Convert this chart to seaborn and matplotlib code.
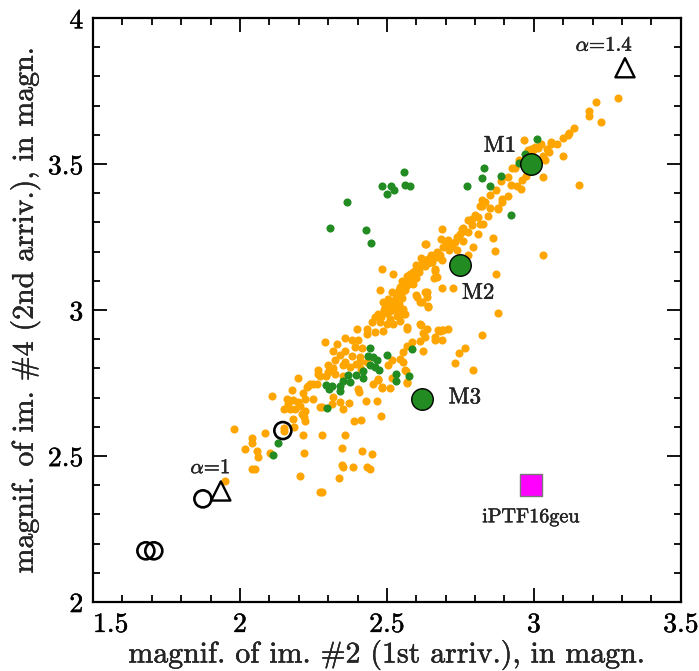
import numpy as np
import pandas as pd
import matplotlib
matplotlib.use("Agg")
import matplotlib.pyplot as plt
import matplotlib.patheffects as pe
import seaborn as sns

# ---------------- data ----------------
orange_x = [3.287,3.213,3.188,3.187,3.229,3.137,3.12,3.115,3.098,3.08,3.057,3.05,3.098,3.032,3.024,2.965,3.037,3.154,3.031,2.981,2.998,2.95,2.924,2.935,2.913,2.973,2.961,2.887,2.921,2.943,2.955,2.87,2.912,2.89,2.85,2.822,2.833,2.822,2.852,2.877,2.845,2.799,2.81,2.777,2.828,2.788,2.76,2.686,
            2.99,3.005,3.015,3.045,3.06,
            2.632,2.482,2.616,
            2.818,2.879,2.89,2.791,2.816,2.754,2.777,2.81,2.861,2.684,2.709,2.76,2.731,2.629,2.793,2.712,2.739,2.867,2.777,2.68,2.657,2.618,2.686,2.641,3.03,2.663,2.871,2.612,2.589,2.567,2.55,2.686,2.725,2.66,2.635,2.601,2.618,2.641,2.879,2.555,2.555,2.567,2.615,2.635,2.686,2.709,2.663,2.825,
            2.58,2.6,2.62,2.63,2.6,2.575,2.59,2.56,2.54,2.6,2.64,2.65,2.67,2.69,2.7,2.72,2.74,2.75,2.76,2.655,2.67,2.61,
            2.522,2.578,2.6,2.623,2.646,2.663,2.669,2.567,2.544,2.476,2.516,2.533,2.6,2.629,2.635,2.504,2.612,2.641,2.487,2.493,2.51,2.47,2.533,2.561,2.459,2.544,2.448,2.476,2.499,2.522,2.612,2.567,2.623,2.397,2.431,2.487,2.459,2.431,2.629,2.663,2.675,2.584,2.612,2.567,2.623,2.357,2.38,2.402,2.289,2.329,2.391,2.414,2.357,2.317,2.34,2.38,2.408,2.555,2.544,2.516,2.323,2.357,2.408,2.555,2.3,2.317,2.374,2.561,2.266,2.294,2.272,2.198,2.47,2.567,2.482,2.249,2.232,2.402,
            2.52,2.53,2.55,2.56,2.57,2.58,2.59,2.5,2.49,2.5,2.52,2.54,2.48,2.51,2.53,2.55,
            2.35,2.299,2.322,2.35,2.395,2.412,2.434,2.504,2.565,2.57,2.519,2.47,2.453,2.482,2.512,2.405,2.317,2.312,2.34,2.372,2.428,2.468,2.349,2.278,2.48,2.389,2.412,2.278,2.357,2.348,2.414,2.448,2.346,2.352,2.386,2.431,2.442,2.338,2.278,
            2.261,2.238,2.227,2.176,2.108,2.215,2.221,2.161,2.181,2.249,2.198,2.164,2.204,2.15,2.17,2.187,2.221,2.272,2.21,2.219,2.179,2.221,2.15,2.185,1.98,2.085,2.215,2.042,2.042,2.017,2.057,2.062,2.102,2.219,2.04,2.051,2.204,1.949,2.272,2.15,2.266,
            2.686,2.765,2.745,2.733,2.794,2.692,2.68]
orange_y = [3.728,3.712,3.681,3.665,3.644,3.625,3.607,3.60,3.59,3.568,3.568,3.541,3.529,3.529,3.57,3.581,3.515,3.427,3.456,3.547,3.547,3.515,3.488,3.488,3.456,3.459,3.447,3.442,3.427,3.424,3.416,3.412,3.39,3.381,3.393,3.376,3.37,3.355,3.35,3.347,3.321,3.327,3.318,3.307,3.296,3.29,3.282,3.279,
            3.55,3.56,3.555,3.55,3.575,
            3.227,3.141,3.178,
            3.358,3.35,3.37,3.313,3.293,3.279,3.267,3.261,3.248,3.244,3.241,3.238,3.233,3.227,3.215,3.206,3.204,3.202,3.187,3.187,3.179,3.176,3.17,3.161,3.19,3.141,3.122,3.147,3.13,3.118,3.101,3.075,3.075,3.11,3.061,3.044,3.027,3.01,2.991,3.005,2.987,2.941,2.95,2.936,2.93,2.936,2.907,2.913,
            3.12,3.14,3.16,3.15,3.11,3.10,3.09,3.08,3.07,3.155,3.175,3.19,3.2,3.215,3.225,3.22,3.25,3.26,3.27,3.165,3.18,3.13,
            3.122,3.124,3.135,3.153,3.164,3.135,3.113,3.101,3.078,3.067,3.061,3.056,3.05,3.061,3.044,3.038,3.027,3.012,3.027,3.01,2.998,2.987,2.981,2.987,2.975,2.964,2.958,2.958,2.953,2.953,2.953,2.936,2.92,2.936,2.936,2.927,2.924,2.918,2.907,2.898,2.93,2.89,2.895,2.878,2.859,2.905,2.898,2.898,2.892,2.884,2.872,2.87,2.859,2.861,2.847,2.844,2.838,2.855,2.833,2.827,2.827,2.821,2.821,2.821,2.81,2.802,2.804,2.793,2.793,2.775,2.775,2.767,2.764,2.752,2.735,2.747,2.741,2.73,
            3.03,3.04,3.06,3.07,3.085,3.095,3.105,3.02,3.0,2.99,3.01,3.02,2.975,2.97,3.0,3.04,
            2.81,2.787,2.781,2.775,2.815,2.798,2.821,2.81,2.79,2.749,2.767,2.761,2.747,2.733,2.733,2.718,2.701,2.678,2.684,2.682,2.687,2.689,2.661,2.667,2.638,2.619,2.623,2.573,2.573,2.527,2.518,2.507,2.47,2.461,2.463,2.461,2.455,2.424,2.378,
            2.747,2.747,2.735,2.726,2.707,2.715,2.695,2.695,2.69,2.695,2.684,2.678,2.672,2.661,2.661,2.661,2.655,2.667,2.644,2.635,2.625,2.619,2.596,2.598,2.594,2.577,2.573,2.561,2.543,2.524,2.518,2.497,2.509,2.509,2.455,2.455,2.432,2.415,2.375,2.587,2.781,
            2.898,2.869,2.853,2.819,2.796,2.93,2.927]

green_x = [3.012,2.969,2.95,2.831,2.822,2.887,2.774,2.852,2.921,
           2.558,2.485,2.514,2.525,2.5,2.561,2.578,2.365,2.308,2.429,2.446,
           2.442,2.436,2.453,2.467,2.501,2.587,2.442,2.459,2.474,2.417,2.395,2.368,2.417,2.531,2.531,2.576,2.349,2.374,2.293,2.312,2.34,
           2.304,2.34,2.295,2.13,2.113]
green_y = [3.587,3.533,3.504,3.488,3.453,3.459,3.424,3.424,3.324,
           3.473,3.426,3.424,3.412,3.399,3.429,3.425,3.37,3.282,3.275,3.228,
           2.87,2.844,2.838,2.829,2.847,2.867,2.81,2.806,2.795,2.79,2.779,2.779,2.767,2.781,2.758,2.773,2.758,2.752,2.744,2.738,2.741,
           2.731,2.722,2.663,2.543,2.504]

models = ["M1", "M2", "M3"]
model_x = [2.99, 2.748, 2.62]
model_y = [3.50, 3.153, 2.696]

circle_x = [1.874, 2.146, 1.68, 1.707]
circle_y = [2.353, 2.587, 2.175, 2.175]

tri_x = [1.935, 3.31]
tri_y = [2.38, 3.83]

obs_label = "iPTF16geu"
obs_x = [2.99]
obs_y = [2.40]

xticks = [1.5, 2, 2.5, 3, 3.5]
xticklabels = ["1.5", "2", "2.5", "3", "3.5"]
yticks = [2, 2.5, 3, 3.5, 4]
yticklabels = ["2", "2.5", "3", "3.5", "4"]

# ---------------- style ----------------
sns.set_style("ticks")
plt.rcParams["font.family"] = ["cmr10", "DejaVu Serif"]
plt.rcParams["mathtext.fontset"] = "cm"
plt.rcParams["axes.formatter.use_mathtext"] = True
plt.rcParams["axes.unicode_minus"] = False

fig = plt.figure(figsize=(6.99, 6.71), dpi=100)
ax = fig.add_axes([0.133, 0.103, 0.841, 0.870])

df_o = pd.DataFrame({"x": orange_x, "y": orange_y})
df_g = pd.DataFrame({"x": green_x, "y": green_y})
sns.scatterplot(data=df_o, x="x", y="y", ax=ax, color="#FFA500", s=34, linewidth=0, zorder=2)
sns.scatterplot(data=df_g, x="x", y="y", ax=ax, color="#228B22", s=34, linewidth=0, zorder=3)

df_m = pd.DataFrame({"x": model_x, "y": model_y, "name": models})
sns.scatterplot(data=df_m, x="x", y="y", ax=ax, color="#228B22", s=240,
                edgecolor="black", linewidth=1.0, zorder=5)

df_c = pd.DataFrame({"x": circle_x, "y": circle_y})
sns.scatterplot(data=df_c, x="x", y="y", ax=ax, marker="o", s=150,
                facecolors="none", edgecolor="black", linewidth=1.9, zorder=6)

df_t = pd.DataFrame({"x": tri_x, "y": tri_y})
sns.scatterplot(data=df_t, x="x", y="y", ax=ax, marker="^", s=190,
                facecolors="none", edgecolor="black", linewidth=1.7, zorder=6)

df_s = pd.DataFrame({"x": obs_x, "y": obs_y})
sns.scatterplot(data=df_s, x="x", y="y", ax=ax, marker="s", s=260,
                color="#FF00FF", edgecolor="#777777", linewidth=1.0, zorder=6)

stroke = [pe.withStroke(linewidth=0.3, foreground="black")]

# annotations
ax.text(2.884, 3.562, models[0], fontsize=16.5, ha="center", va="center", path_effects=stroke)
ax.text(2.81, 3.058, models[1], fontsize=16.5, ha="center", va="center", path_effects=stroke)
ax.text(2.765, 2.70, models[2], fontsize=16.5, ha="center", va="center", path_effects=stroke)
ax.text(3.24, 3.905, r"$\alpha$=1.4", fontsize=15, ha="center", va="center", path_effects=stroke)
ax.text(1.90, 2.458, r"$\alpha$=1", fontsize=15, ha="center", va="center", path_effects=stroke)
ax.text(2.99, 2.29, obs_label, fontsize=14.5, ha="center", va="center", path_effects=stroke)

ax.set_xlim(1.5, 3.5)
ax.set_ylim(2, 4)
ax.set_xticks(xticks)
ax.set_xticklabels(xticklabels)
ax.set_yticks(yticks)
ax.set_yticklabels(yticklabels)
ax.set_xticks(np.arange(1.5, 3.5001, 0.1), minor=True)
ax.set_yticks(np.arange(2.0, 4.0001, 0.1), minor=True)
ax.tick_params(which="both", direction="in", top=True, right=True, width=1.3, colors="black")
ax.tick_params(which="major", length=10, labelsize=20, pad=7)
ax.tick_params(which="minor", length=5)
for sp in ax.spines.values():
    sp.set_linewidth(1.6)
    sp.set_color("black")
ax.get_xticklabels()[0].set_ha("left")
for lab in ax.get_xticklabels() + ax.get_yticklabels():
    lab.set_path_effects(stroke)

ax.set_xlabel("magnif. of im. #2 (1st arriv.), in magn.", fontsize=21.5, labelpad=1,
              path_effects=stroke)
ax.set_ylabel("magnif. of im. #4 (2nd arriv.), in magn.", fontsize=21.5, labelpad=5,
              path_effects=stroke)

fig.savefig("out.png", dpi=100)
